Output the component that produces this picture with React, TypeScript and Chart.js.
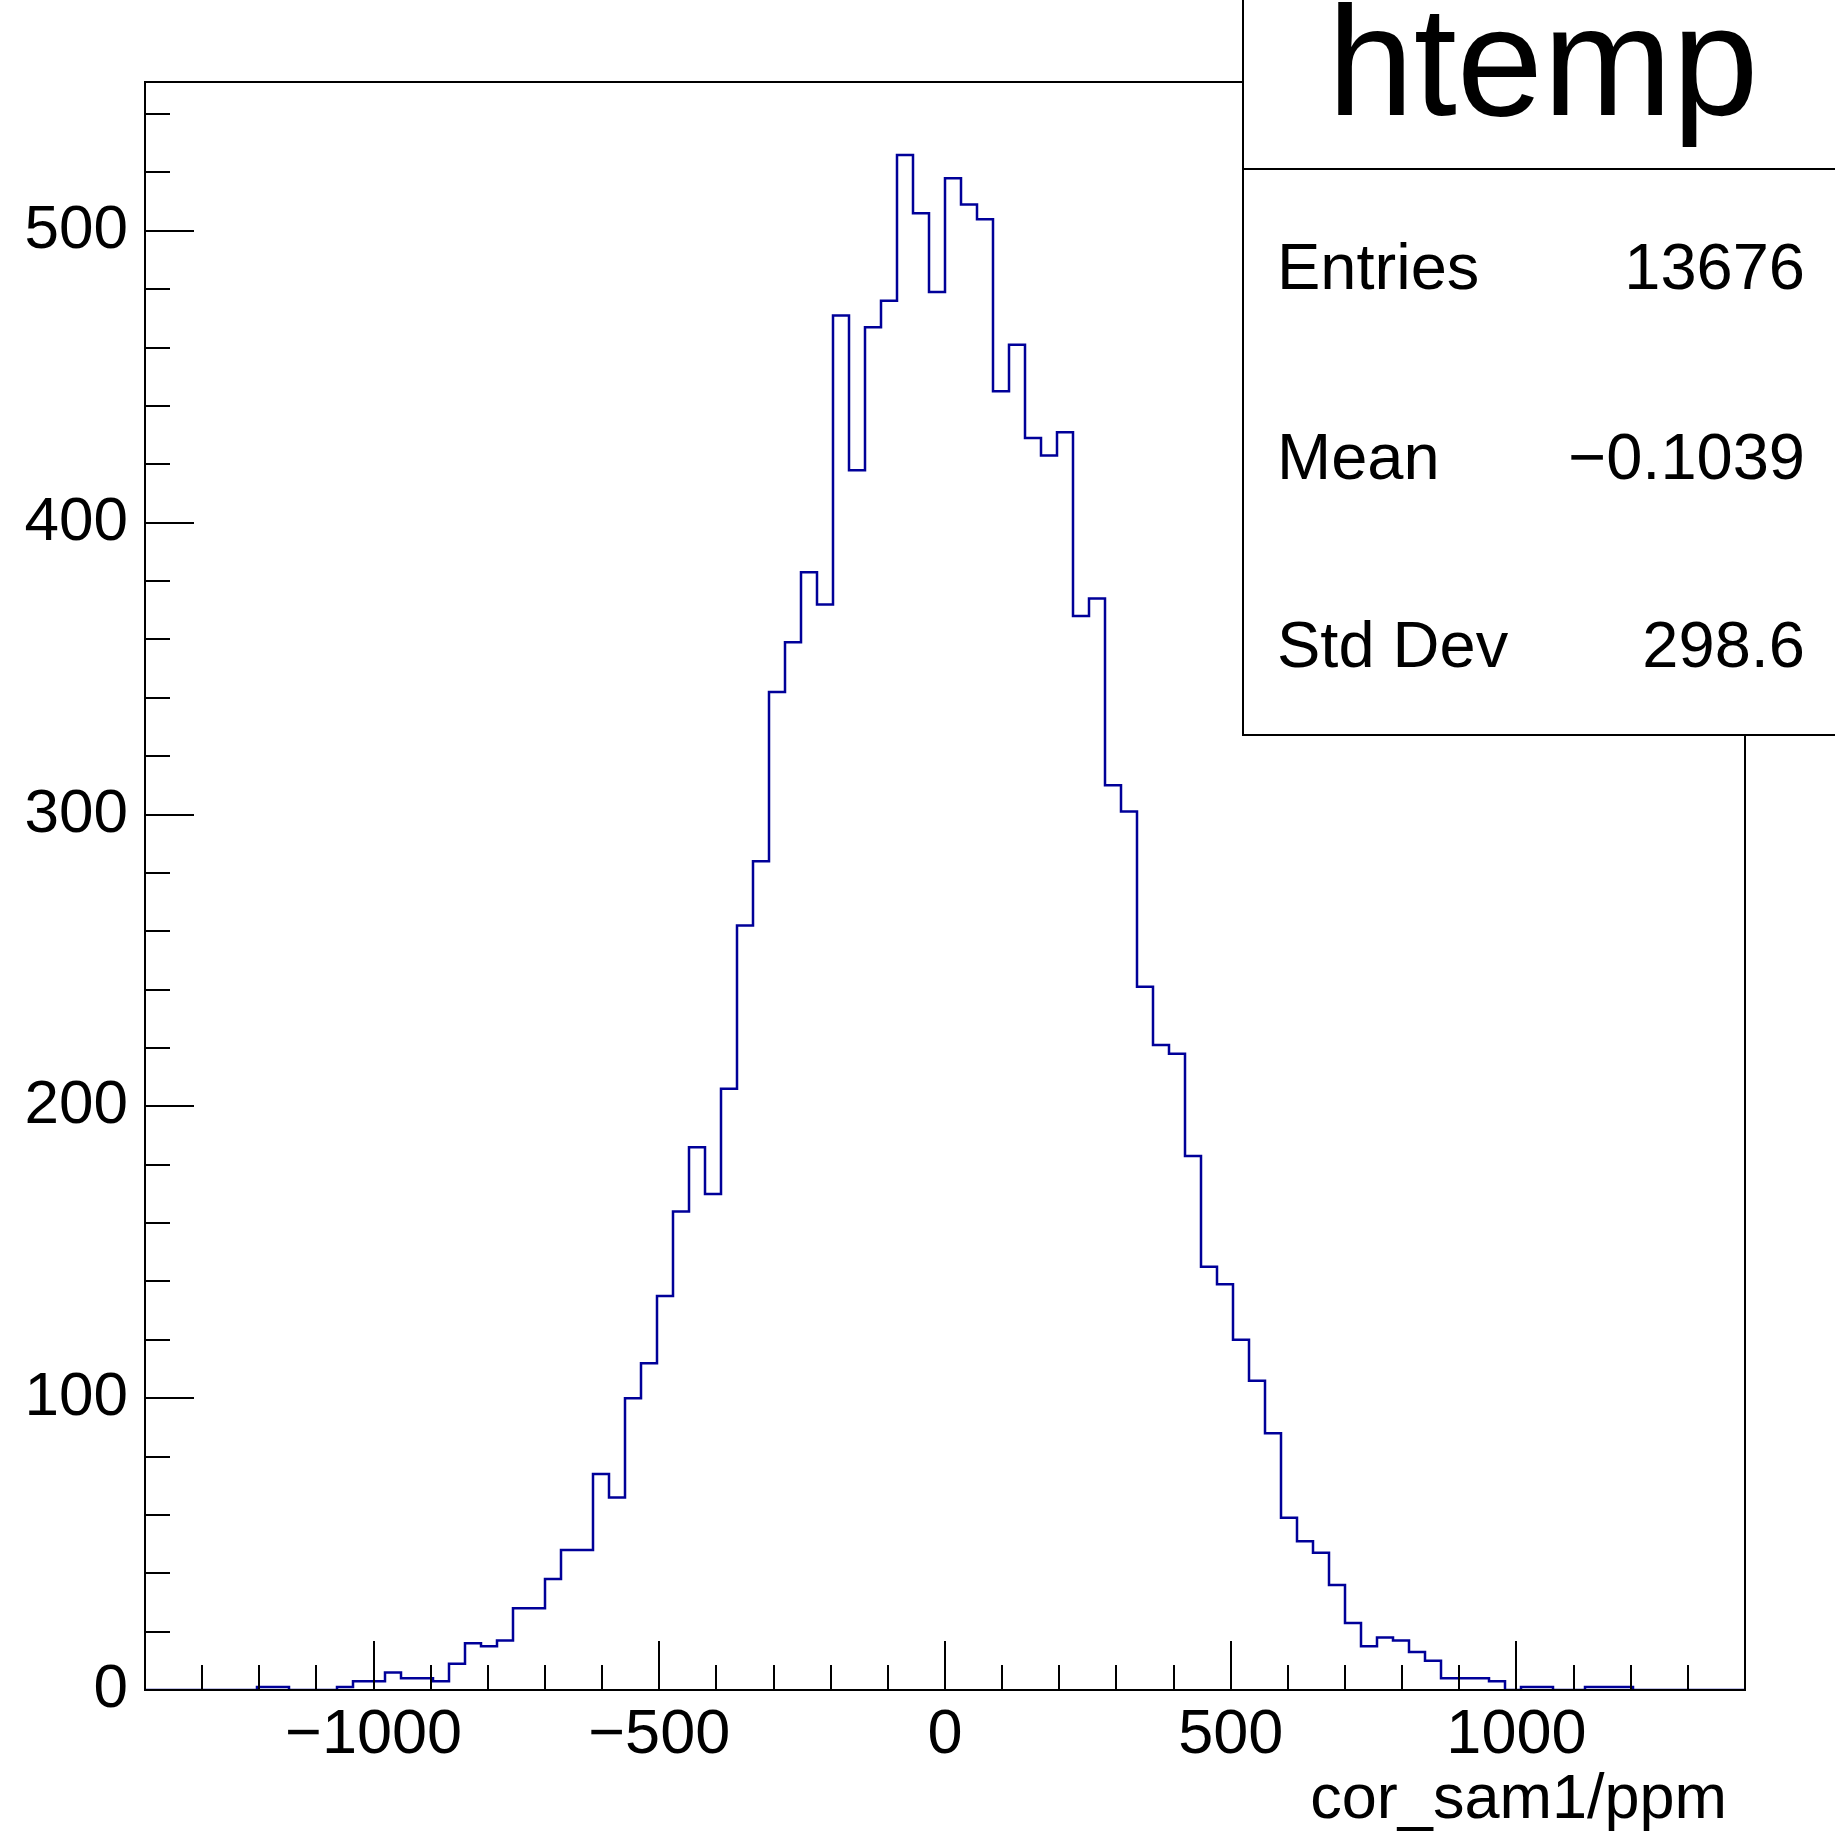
import React, { useEffect, useRef } from "react";
import { Chart, registerables } from "chart.js";

Chart.register(...registerables);

// Histogram "htemp": 100 bins from -1400 to 1400 (bin width 28)
const BIN_LOW = -1400;
const BIN_HIGH = 1400;
const BIN_WIDTH = 28;
const counts: number[] = [
  0, 0, 0, 0, 0, 0, 0, 1, 1, 0,
  0, 0, 1, 3, 3, 6, 4, 4, 3, 9,
  16, 15, 17, 28, 28, 38, 48, 48, 74, 66,
  100, 112, 135, 164, 186, 170, 206, 262, 284, 342,
  359, 383, 372, 471, 418, 467, 476, 526, 506, 479,
  518, 509, 504, 445, 461, 429, 423, 431, 368, 374,
  310, 301, 241, 221, 218, 183, 145, 139, 120, 106,
  88, 59, 51, 47, 36, 23, 15, 18, 17, 13,
  10, 4, 4, 4, 3, 0, 1, 1, 0, 0,
  1, 1, 1, 0, 0, 0, 0, 0, 0, 0,
];

const Y_MAX = 551;
const xMajorTicks = [-1000, -500, 0, 500, 1000];
const xMinorStep = 100;
const yMajorTicks = [0, 100, 200, 300, 400, 500];
const yMinorStep = 20;

const histTitle = "htemp";
const xAxisTitle = "cor_sam1/ppm";
const statNames = ["Entries", "Mean", "Std Dev"];
const statValues = ["13676", "\u22120.1039", "298.6"];

const FONT = '"Liberation Sans", Arial, Helvetica, sans-serif';
const LINE_COLOR = "#000099";

function fmt(v: number): string {
  return v < 0 ? "\u2212" + String(Math.abs(v)) : String(v);
}

const rootDecor = {
  id: "rootDecor",
  afterDatasetsDraw(chart: any) {
    const { ctx, chartArea: a, scales } = chart;
    const x = scales.x;
    const y = scales.y;
    ctx.save();
    ctx.strokeStyle = "#000";
    ctx.lineWidth = 2;
    ctx.lineCap = "butt";
    // x ticks (inward)
    ctx.beginPath();
    for (let v = BIN_LOW + xMinorStep; v < BIN_HIGH; v += xMinorStep) {
      const px = Math.round(x.getPixelForValue(v));
      const len = xMajorTicks.includes(v) ? 49 : 25;
      ctx.moveTo(px, a.bottom);
      ctx.lineTo(px, a.bottom - len);
    }
    // y ticks (inward)
    for (let v = 0; v <= Y_MAX; v += yMinorStep) {
      const py = Math.round(y.getPixelForValue(v));
      const len = yMajorTicks.includes(v) ? 49 : 25;
      ctx.moveTo(a.left, py);
      ctx.lineTo(a.left + len, py);
    }
    ctx.stroke();
    // frame
    ctx.strokeRect(a.left, a.top, a.right - a.left, a.bottom - a.top);
    ctx.restore();
  },
  afterDraw(chart: any) {
    const { ctx, chartArea: a } = chart;
    ctx.save();
    ctx.lineWidth = 2;
    ctx.strokeStyle = "#000";
    ctx.fillStyle = "#fff";
    // title box
    ctx.fillRect(1243, -20, 700, 189);
    ctx.strokeRect(1243, -20, 700, 189);
    // stats box
    ctx.fillRect(1243, 169, 700, 566);
    ctx.strokeRect(1243, 169, 700, 566);

    ctx.fillStyle = "#000";
    ctx.textBaseline = "alphabetic";
    ctx.font = `155px ${FONT}`;
    ctx.textAlign = "center";
    ctx.fillText(histTitle, 1543, 115);

    ctx.font = `65px ${FONT}`;
    const rows = [289, 479, 667];
    statNames.forEach((n, i) => {
      ctx.textAlign = "left";
      ctx.fillText(n, 1277, rows[i]);
      ctx.textAlign = "right";
      ctx.fillText(statValues[i], 1805, rows[i]);
    });

    ctx.font = `63px ${FONT}`;
    ctx.textAlign = "right";
    ctx.fillText(xAxisTitle, a.right - 18, 1818);
    ctx.restore();
  },
};

export default function App() {
  const ref = useRef<HTMLCanvasElement | null>(null);

  useEffect(() => {
    if (!ref.current) return;
    const points = counts.map((c, i) => ({ x: BIN_LOW + i * BIN_WIDTH, y: c }));
    points.push({ x: BIN_HIGH, y: 0 });

    const chart = new Chart(ref.current, {
      type: "line",
      data: {
        datasets: [
          {
            label: "htemp",
            data: points,
            stepped: "before",
            borderColor: LINE_COLOR,
            borderWidth: 2.5,
            pointRadius: 0,
            fill: false,
            tension: 0,
          },
        ],
      },
      options: {
        animation: false,
        responsive: false,
        maintainAspectRatio: false,
        devicePixelRatio: 1,
        layout: { padding: { left: 0, right: 90, top: 82, bottom: 0 } },
        plugins: {
          legend: { display: false },
          tooltip: { enabled: false },
          title: { display: false },
        },
        scales: {
          x: {
            type: "linear",
            min: BIN_LOW,
            max: BIN_HIGH,
            border: { display: false },
            grid: { display: false, drawTicks: false },
            afterFit: (s: any) => {
              s.height = 147;
            },
            ticks: {
              stepSize: xMinorStep,
              autoSkip: false,
              maxRotation: 0,
              minRotation: 0,
              padding: 8,
              color: "#000",
              font: { family: FONT, size: 63 },
              callback: (v: any) => (xMajorTicks.includes(Number(v)) ? fmt(Number(v)) : ""),
            },
          },
          y: {
            type: "linear",
            min: 0,
            max: Y_MAX,
            border: { display: false },
            grid: { display: false, drawTicks: false },
            afterFit: (s: any) => {
              s.width = 145;
            },
            ticks: {
              stepSize: 100,
              includeBounds: false,
              autoSkip: false,
              padding: 17,
              color: "#000",
              font: { family: FONT, size: 62 },
              callback: (v: any) => (yMajorTicks.includes(Number(v)) ? fmt(Number(v)) : ""),
            },
          },
        },
      },
      plugins: [rootDecor],
    });
    return () => chart.destroy();
  }, []);

  return (
    <div
      style={{
        position: "absolute",
        left: 0,
        top: 0,
        width: 1835,
        height: 1837,
        background: "#fff",
        overflow: "hidden",
      }}
    >
      <canvas ref={ref} width={1835} height={1837} style={{ display: "block", width: 1835, height: 1837 }} />
    </div>
  );
}
